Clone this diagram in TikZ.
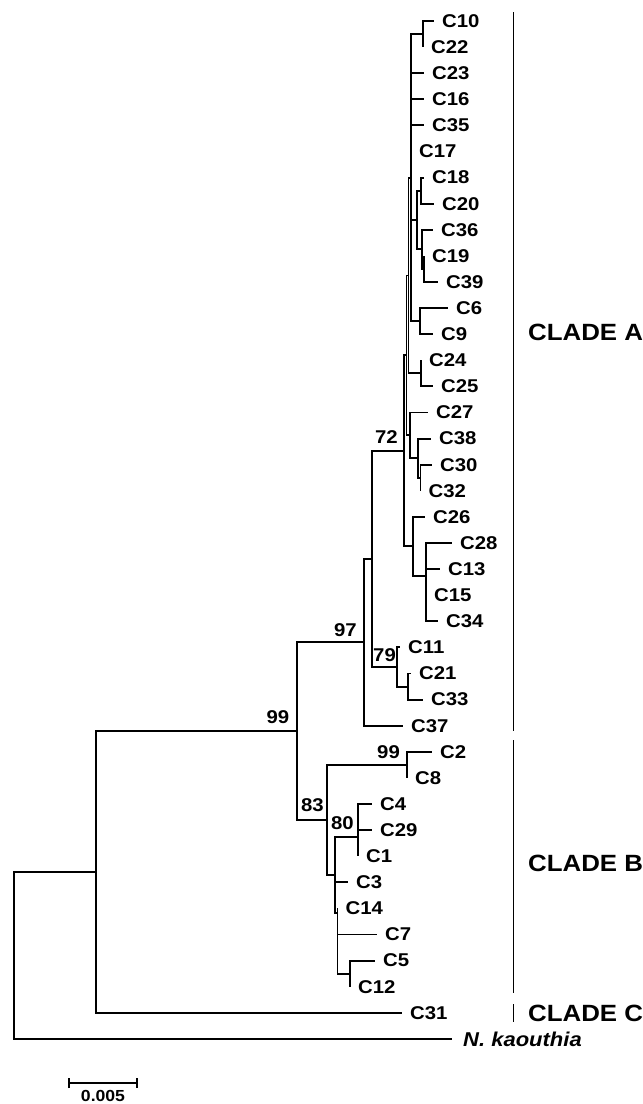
\documentclass[tikz,border=0pt]{standalone}
\usepackage{fontspec}
\setmainfont{Liberation Sans}[FakeStretch=1.1]
\usetikzlibrary{arrows.meta}
\tikzset{
  branch/.style={line width=1.9pt, line join=miter},
  leaf/.style={anchor=west, inner xsep=8pt, inner ysep=0pt,
               font=\fontsize{18.5}{20}\selectfont\bfseries},
  boot/.style={inner sep=0pt, font=\fontsize{18.5}{20}\selectfont\bfseries},
  clade/.style={anchor=west, inner sep=0pt, font=\fontsize{23.5}{26}\selectfont\bfseries},
  cladebar/.style={line width=1.9pt},
}

\begin{document}
\begin{tikzpicture}[x=1pt, y=-1pt]
\useasboundingbox (0,0) rectangle (643,1104);

% Leaves, clade A
\node[leaf] (C10) at (434,21) {C10};
\node[leaf] (C22) at (423,47.1) {C22};
\node[leaf] (C23) at (424,73.2) {C23};
\node[leaf] (C16) at (424,99.3) {C16};
\node[leaf] (C35) at (424,125.4) {C35};
\node[leaf] (C17) at (411,151.5) {C17};
\node[leaf] (C18) at (424,177.6) {C18};
\node[leaf] (C20) at (434,203.7) {C20};
\node[leaf] (C36) at (433,229.8) {C36};
\node[leaf] (C19) at (424,255.9) {C19};
\node[leaf] (C39) at (438,282) {C39};
\node[leaf] (C6) at (448,308.1) {C6};
\node[leaf] (C9) at (433,334.2) {C9};
\node[leaf] (C24) at (421,360.3) {C24};
\node[leaf] (C25) at (433,386.4) {C25};
\node[leaf] (C27) at (428,412.5) {C27};
\node[leaf] (C38) at (431,438.6) {C38};
\node[leaf] (C30) at (432,464.7) {C30};
\node[leaf] (C32) at (420.5,490.8) {C32};
\node[leaf] (C26) at (425,516.9) {C26};
\node[leaf] (C28) at (452,543) {C28};
\node[leaf] (C13) at (440,569.1) {C13};
\node[leaf] (C15) at (426,595.2) {C15};
\node[leaf] (C34) at (438,621.3) {C34};
\node[leaf] (C11) at (400,647.4) {C11};
\node[leaf] (C21) at (411,673.5) {C21};
\node[leaf] (C33) at (423,699.6) {C33};
\node[leaf] (C37) at (403,725.7) {C37};

% Leaves, clade B, C and outgroup
\node[leaf] (C2) at (432,751.8) {C2};
\node[leaf] (C8) at (407,777.9) {C8};
\node[leaf] (C4) at (372,804) {C4};
\node[leaf] (C29) at (372,830.1) {C29};
\node[leaf] (C1) at (358,856.2) {C1};
\node[leaf] (C3) at (348,882.3) {C3};
\node[leaf] (C14) at (337.5,908.4) {C14};
\node[leaf] (C7) at (377,934.5) {C7};
\node[leaf] (C5) at (375,960.6) {C5};
\node[leaf] (C12) at (350,986.7) {C12};
\node[leaf] (C31) at (402,1012.8) {C31};
\node[leaf, inner xsep=11pt, font=\fontsize{20}{22}\selectfont\bfseries] (Nk) at (452,1038.9) {\textit{N. kaouthia}};

% Internal nodes
\coordinate (nCD) at (423,34.05);
\coordinate (nE) at (421,190.65);
\coordinate (nH) at (424,268.95);
\coordinate (nG) at (422,249.4);
\coordinate (nQ) at (417,220);
\coordinate (nF) at (420,321.15);
\coordinate (nA1) at (411,177.6);
\coordinate (nK) at (421,373.35);
\coordinate (nA2) at (408.5,275.5);
\coordinate (nM) at (420.5,477.75);
\coordinate (nL) at (418,458.2);
\coordinate (nA4) at (410,435.35);
\coordinate (nA3) at (406.5,355.4);
\coordinate (nT) at (426,608.25);
\coordinate (nS) at (426,575.6);
\coordinate (nR) at (413,546.25);
\coordinate (n72) at (404,450.8);
\coordinate (nU) at (408,686.55);
\coordinate (n79) at (397,667);
\coordinate (nX) at (372,558.9);
\coordinate (n97) at (364,642.3);
\coordinate (nV) at (407,764.85);
\coordinate (nW) at (358,817.05);
\coordinate (nY) at (358,836.6);
\coordinate (nP) at (350,973.65);
\coordinate (nZ) at (337.5,913);
\coordinate (n80) at (335,874.8);
\coordinate (n83) at (327,819.8);
\coordinate (n99) at (297,731.05);
\coordinate (n2) at (96,871.9);
\coordinate (nR0) at (14,955.4);

% Branches, clade A
\draw[branch] (nCD) |- (C10) (nCD) |- (C22);
\draw[branch] (nE) |- (C18) (nE) |- (C20);
\draw[branch] (nH) |- (C19) (nH) |- (C39);
\draw[branch] (nG) |- (C36) (nG) |- (nH);
\draw[branch] (nQ) |- (nE) (nQ) |- (nG);
\draw[branch] (nF) |- (C6) (nF) |- (C9);
\draw[branch] (nA1) |- (nCD) (nA1) |- (C23) (nA1) |- (C16) (nA1) |- (C35)
              (nA1) |- (C17) (nA1) |- (nQ) (nA1) |- (nF);
\draw[branch] (nK) |- (C24) (nK) |- (C25);
\draw[branch] (nA2) |- (nA1) (nA2) |- (nK);
\draw[branch] (nM) |- (C30) (nM) |- (C32);
\draw[branch] (nL) |- (C38) (nL) |- (nM);
\draw[branch] (nA4) |- (C27) (nA4) |- (nL);
\draw[branch] (nA3) |- (nA2) (nA3) |- (nA4);
\draw[branch] (nT) |- (C15) (nT) |- (C34);
\draw[branch] (nS) |- (C28) (nS) |- (C13) (nS) |- (nT);
\draw[branch] (nR) |- (C26) (nR) |- (nS);
\draw[branch] (n72) |- (nA3) (n72) |- (nR);
\draw[branch] (nU) |- (C21) (nU) |- (C33);
\draw[branch] (n79) |- (C11) (n79) |- (nU);
\draw[branch] (nX) |- (n72) (nX) |- (n79);
\draw[branch] (n97) |- (nX) (n97) |- (C37);

% Branches, clade B
\draw[branch] (nV) |- (C2) (nV) |- (C8);
\draw[branch] (nW) |- (C4) (nW) |- (C29);
\draw[branch] (nY) |- (nW) (nY) |- (C1);
\draw[branch] (nP) |- (C5) (nP) |- (C12);
\draw[branch] (nZ) |- (C14) (nZ) |- (C7) (nZ) |- (nP);
\draw[branch] (n80) |- (nY) (n80) |- (C3) (n80) |- (nZ);
\draw[branch] (n83) |- (nV) (n83) |- (n80);

% Deep branches
\draw[branch] (n99) |- (n97) (n99) |- (n83);
\draw[branch] (n2) |- (n99) (n2) |- (C31);
\draw[branch] (nR0) |- (n2) (nR0) |- (Nk);

% Bootstrap values
\node[boot] (b99a) at (278,717) {99};
\node[boot] (b97) at (345.5,630) {97};
\node[boot] (b72) at (386.5,437) {72};
\node[boot] (b79) at (384.5,655) {79};
\node[boot] (b99b) at (388.5,752) {99};
\node[boot] (b83) at (312.5,805) {83};
\node[boot] (b80) at (342.5,823) {80};

% Clade bars
\coordinate (cAtop) at (513.5,12);
\coordinate (cAbot) at (513.5,731);
\coordinate (cBtop) at (513.5,740);
\coordinate (cBbot) at (513.5,993);
\coordinate (cCtop) at (513.5,1004);
\coordinate (cCbot) at (513.5,1022);
\draw[cladebar] (cAtop) -- (cAbot);
\draw[cladebar] (cBtop) -- (cBbot);
\draw[cladebar] (cCtop) -- (cCbot);
\node[clade] (lA) at (528,332) {CLADE A};
\node[clade] (lB) at (528,863) {CLADE B};
\node[clade] (lC) at (528,1013) {CLADE C};

% Scale bar
\coordinate (sL) at (68,1083);
\coordinate (sR) at (138,1083);
\draw[branch, {Bar[width=10pt]}-{Bar[width=10pt]}] (sL) -- (sR);
\node[inner sep=0pt, font=\fontsize{16}{18}\selectfont\bfseries] (sLab) at (103,1095.5) {0.005};

\end{tikzpicture}
\end{document}
